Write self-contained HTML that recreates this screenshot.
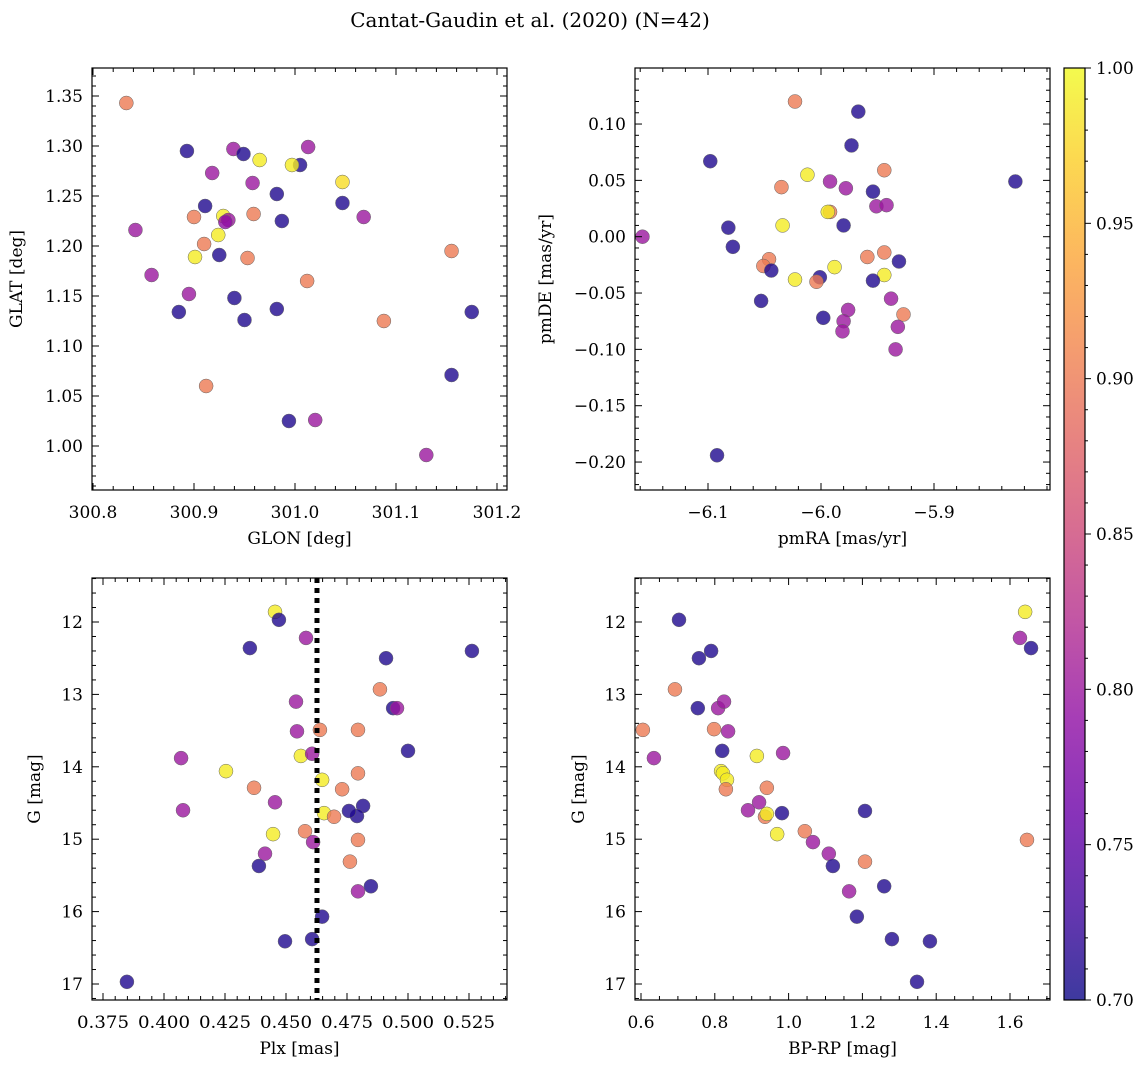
<!DOCTYPE html>
<html><head><meta charset="utf-8"><style>
html,body{margin:0;padding:0;background:#fff;}
svg{display:block;font-family:"DejaVu Serif","Liberation Serif",serif;}
</style></head><body>
<svg id="fig" width="1148" height="1067" viewBox="0 0 1148 1067" xmlns="http://www.w3.org/2000/svg">
<defs>
<linearGradient id="plasmaGrad" x1="0" y1="1" x2="0" y2="0">
<stop offset="0" stop-color="#0d0887"/><stop offset="0.1" stop-color="#41049d"/><stop offset="0.2" stop-color="#6a00a8"/><stop offset="0.3" stop-color="#8f0da4"/><stop offset="0.4" stop-color="#b12a90"/><stop offset="0.5" stop-color="#cc4778"/><stop offset="0.6" stop-color="#e16462"/><stop offset="0.7" stop-color="#f2844b"/><stop offset="0.8" stop-color="#fca636"/><stop offset="0.9" stop-color="#fcce25"/><stop offset="1" stop-color="#f0f921"/>
</linearGradient>
</defs>
<text x="530" y="27" font-size="20" text-anchor="middle">Cantat-Gaudin et al. (2020) (N=42)</text>
</svg>
<script>
// ---- Panel 1: GLON vs GLAT ----
const p1Glon=[300.833,300.893,300.939,300.949,300.965,301.013,301.005,300.997,300.918,300.958,300.911,301.047,300.982,300.929,300.900,300.934,300.931,300.959,301.068,300.987,301.047,300.842,300.924,300.910,300.925,300.901,300.953,301.155,300.858,301.012,300.895,300.940,300.885,300.982,300.950,301.088,301.175,300.912,301.155,300.994,301.020,301.130];
const p1Glat=[1.343,1.295,1.297,1.292,1.286,1.299,1.281,1.281,1.273,1.263,1.240,1.264,1.252,1.230,1.229,1.226,1.224,1.232,1.229,1.225,1.243,1.216,1.211,1.202,1.191,1.189,1.188,1.195,1.171,1.165,1.152,1.148,1.134,1.137,1.126,1.125,1.134,1.060,1.071,1.025,1.026,0.991];
const p1Prob=[0.90,0.71,0.80,0.71,0.99,0.80,0.71,0.99,0.80,0.80,0.71,0.98,0.71,0.99,0.90,0.80,0.79,0.90,0.80,0.71,0.71,0.80,0.99,0.90,0.71,0.99,0.90,0.90,0.80,0.90,0.80,0.71,0.71,0.71,0.71,0.90,0.71,0.90,0.71,0.71,0.80,0.80];
const p1XTicks=[300.8,300.9,301.0,301.1,301.2];
const p1XLabels=["300.8","300.9","301.0","301.1","301.2"];
const p1YTicks=[1.00,1.05,1.10,1.15,1.20,1.25,1.30,1.35];
const p1YLabels=["1.00","1.05","1.10","1.15","1.20","1.25","1.30","1.35"];
// ---- Panel 2: pmRA vs pmDE ----
const p2Pmra=[-6.098,-6.023,-5.967,-5.973,-6.012,-5.992,-5.944,-6.035,-5.978,-5.954,-5.951,-5.942,-5.992,-5.994,-5.828,-6.034,-6.082,-5.980,-6.158,-6.078,-6.046,-6.051,-6.044,-5.944,-5.959,-5.931,-6.001,-6.004,-6.023,-5.944,-5.954,-6.053,-5.938,-5.976,-5.998,-5.927,-5.932,-5.980,-5.981,-5.934,-6.092,-5.988];
const p2Pmde=[0.067,0.120,0.111,0.081,0.055,0.049,0.059,0.044,0.043,0.040,0.027,0.028,0.022,0.022,0.049,0.010,0.008,0.010,0.000,-0.009,-0.020,-0.026,-0.030,-0.014,-0.018,-0.022,-0.036,-0.040,-0.038,-0.034,-0.039,-0.057,-0.055,-0.065,-0.072,-0.069,-0.080,-0.075,-0.084,-0.100,-0.194,-0.027];
const p2Prob=[0.71,0.90,0.71,0.71,0.99,0.80,0.90,0.90,0.80,0.71,0.80,0.80,0.90,0.99,0.71,0.99,0.71,0.71,0.80,0.71,0.90,0.90,0.71,0.90,0.90,0.71,0.71,0.90,0.99,0.99,0.71,0.71,0.80,0.80,0.71,0.90,0.80,0.80,0.80,0.80,0.71,0.99];
const p2XTicks=[-6.1,-6.0,-5.9];
const p2XLabels=["\u22126.1","\u22126.0","\u22125.9"];
const p2YTicks=[-0.20,-0.15,-0.10,-0.05,0.00,0.05,0.10];
const p2YLabels=["\u22120.20","\u22120.15","\u22120.10","\u22120.05","0.00","0.05","0.10"];
// ---- Panel 3: Plx vs G ----
const p3Plx=[0.4455,0.4471,0.4582,0.4352,0.5262,0.4910,0.4885,0.4939,0.4955,0.4541,0.4545,0.4639,0.4795,0.5000,0.4561,0.4607,0.4070,0.4254,0.4648,0.4795,0.4730,0.4369,0.4656,0.4697,0.4816,0.4791,0.4758,0.4455,0.4078,0.4447,0.4578,0.4611,0.4795,0.4414,0.4762,0.4389,0.4795,0.4848,0.4648,0.4496,0.4607,0.3848];
const p3G=[11.86,11.97,12.22,12.36,12.40,12.50,12.93,13.19,13.19,13.10,13.51,13.49,13.49,13.78,13.85,13.82,13.88,14.06,14.18,14.09,14.31,14.29,14.64,14.69,14.54,14.68,14.61,14.49,14.60,14.93,14.89,15.04,15.01,15.20,15.31,15.37,15.72,15.65,16.07,16.41,16.38,16.97];
const p3Prob=[0.99,0.71,0.80,0.71,0.71,0.71,0.90,0.71,0.80,0.80,0.80,0.90,0.90,0.71,0.99,0.80,0.80,0.99,0.99,0.90,0.90,0.90,0.99,0.90,0.71,0.71,0.71,0.80,0.80,0.99,0.90,0.80,0.90,0.80,0.90,0.71,0.80,0.71,0.71,0.71,0.71,0.71];
const p3MeanPlx=0.4627;
const p3XTicks=[0.375,0.400,0.425,0.450,0.475,0.500,0.525];
const p3XLabels=["0.375","0.400","0.425","0.450","0.475","0.500","0.525"];
const gTicks=[12,13,14,15,16,17];
const gLabels=["12","13","14","15","16","17"];
// ---- Panel 4: BP-RP vs G ----
const p4Bprp=[0.703,1.641,1.627,1.657,0.790,0.757,0.692,0.809,0.825,0.754,0.605,0.798,0.836,0.635,0.820,0.914,0.985,0.817,0.822,0.833,0.830,0.941,0.890,0.920,0.982,0.936,0.941,1.207,1.044,0.969,1.066,1.646,1.109,1.120,1.207,1.164,1.259,1.185,1.280,1.383,1.348];
const p4G=[11.97,11.86,12.22,12.36,12.40,12.50,12.93,13.19,13.10,13.19,13.49,13.48,13.51,13.88,13.78,13.85,13.81,14.06,14.09,14.18,14.31,14.29,14.60,14.49,14.64,14.69,14.65,14.61,14.89,14.93,15.04,15.01,15.20,15.37,15.31,15.72,15.65,16.07,16.38,16.41,16.97];
const p4Prob=[0.71,0.99,0.80,0.71,0.71,0.71,0.90,0.80,0.80,0.71,0.90,0.90,0.80,0.80,0.71,0.99,0.80,0.99,0.99,0.99,0.90,0.90,0.80,0.80,0.71,0.90,0.99,0.71,0.90,0.99,0.80,0.90,0.80,0.71,0.90,0.80,0.71,0.71,0.71,0.71,0.71];
const p4XTicks=[0.6,0.8,1.0,1.2,1.4,1.6];
const p4XLabels=["0.6","0.8","1.0","1.2","1.4","1.6"];
// ---- Colorbar ----
const cbTicks=[0.70,0.75,0.80,0.85,0.90,0.95,1.00];
const cbLabels=["0.70","0.75","0.80","0.85","0.90","0.95","1.00"];

const NS="http://www.w3.org/2000/svg";
const fig=document.getElementById('fig');
function mk(tag,attrs,parent){const e=document.createElementNS(NS,tag);for(const k in attrs)e.setAttribute(k,attrs[k]);(parent||fig).appendChild(e);return e;}
function lin(v0,p0,k){const f=v=>p0+(v-v0)*k;f.inv=p=>v0+(p-p0)/k;return f;}
const stops=[[0,13,8,135],[0.1,65,4,157],[0.2,106,0,168],[0.3,143,13,164],[0.4,177,42,144],[0.5,204,71,120],[0.6,225,100,98],[0.7,242,132,75],[0.8,252,166,54],[0.9,252,206,37],[1,240,249,33]];
function plasma(t){t=Math.max(0,Math.min(1,t));for(let i=1;i<stops.length;i++){if(t<=stops[i][0]){const a=stops[i-1],b=stops[i],u=(t-a[0])/(b[0]-a[0]);return 'rgb('+[1,2,3].map(j=>Math.round(a[j]+(b[j]-a[j])*u)).join(',')+')';}}return 'rgb(240,249,33)';}
const cNorm=v=>(v-0.70)/0.30;

function ticksAlong(box,scale,ticks,minorStep,axis,name){
  const g=mk('g',{});
  
  
  const [x0,y0,x1,y1]=box;
  const lo=Math.min(scale.inv(axis==='x'?x0:y0),scale.inv(axis==='x'?x1:y1));
  const hi=Math.max(scale.inv(axis==='x'?x0:y0),scale.inv(axis==='x'?x1:y1));
  const start=Math.ceil(lo/minorStep-1e-6);
  for(let i=start;i*minorStep<=hi+1e-9;i++){
    const v=i*minorStep;const isMajor=ticks.some(t=>Math.abs(t-v)<minorStep/10);
    const L=isMajor?7:4;const p=scale(v);
    if(axis==='x'){mk('line',{x1:p,y1:y1,x2:p,y2:y1-L,stroke:'#000','stroke-width':1},g);mk('line',{x1:p,y1:y0,x2:p,y2:y0+L,stroke:'#000','stroke-width':1},g);}
    else{mk('line',{x1:x0,y1:p,x2:x0+L,y2:p,stroke:'#000','stroke-width':1},g);mk('line',{x1:x1,y1:p,x2:x1-L,y2:p,stroke:'#000','stroke-width':1},g);}
  }
}
function panel(id,box,xs,ys,xT,xL,yT,yL,xMinor,yMinor,xTitle,yTitle,yTitleX,xv,yv,pv,xLabW){
  const [x0,y0,x1,y1]=box;
  const g=mk('g',{});
  
  
  const pts=mk('g',{},g);
  
  
  for(let i=0;i<xv.length;i++){
    const c=mk('circle',{cx:xs(xv[i]),cy:ys(yv[i]),r:7,fill:plasma(cNorm(pv[i])),'fill-opacity':0.8,stroke:'#666','stroke-width':0.5},pts);
    
    
  }
  ticksAlong(box,xs,xT,xMinor,'x',id+'-x');
  ticksAlong(box,ys,yT,yMinor,'y',id+'-y');
  const fr=mk('rect',{x:x0,y:y0,width:x1-x0,height:y1-y0,fill:'none',stroke:'#000','stroke-width':1.2},g);
  
  
  xT.forEach((t,i)=>{const at={x:xs(t),y:y1+28,'font-size':17,'text-anchor':'middle'};
    if(xLabW){at.textLength=xLabW;at.lengthAdjust='spacingAndGlyphs';}
    const e=mk('text',at,g);e.textContent=xL[i];
    
    });
  yT.forEach((t,i)=>{const e=mk('text',{x:x0-9,y:ys(t)+6,'font-size':17,'text-anchor':'end'},g);e.textContent=yL[i];
    
    });
  const xt=mk('text',{x:(x0+x1)/2,y:y1+54,'font-size':17,'text-anchor':'middle'},g);xt.textContent=xTitle;
  
  
  const cy=(y0+y1)/2;
  const yt=mk('text',{x:yTitleX,y:cy,'font-size':17,'text-anchor':'middle',transform:'rotate(-90 '+yTitleX+' '+cy+')'},g);yt.textContent=yTitle;
  
  
  return g;
}
const B1=[92,68,507,490],B2=[635,68,1050,490],B3=[92,578,507,1000],B4=[635,578,1050,1000];
const s1x=lin(300.8,93,1010),s1y=lin(1.35,96,-1000);
const s2x=lin(-6.1,708,1130),s2y=lin(0,236.7,-1126.7);
const s3x=lin(0.375,103,2440),s3y=lin(12,622,72.4);
const s4x=lin(0.6,641,369),s4y=lin(12,622,72.4);
panel('glon-glat-panel',B1,s1x,s1y,p1XTicks,p1XLabels,p1YTicks,p1YLabels,0.02,0.01,'GLON [deg]','GLAT [deg]',22,p1Glon,p1Glat,p1Prob);
panel('proper-motion-panel',B2,s2x,s2y,p2XTicks,p2XLabels,p2YTicks,p2YLabels,0.02,0.01,'pmRA [mas/yr]','pmDE [mas/yr]',551,p2Pmra,p2Pmde,p2Prob);
const g3=panel('parallax-panel',B3,s3x,s3y,p3XTicks,p3XLabels,gTicks,gLabels,0.005,0.2,'Plx [mas]','G [mag]',40,p3Plx,p3G,p3Prob,52);
const ml=mk('line',{x1:s3x(p3MeanPlx),y1:B3[1],x2:s3x(p3MeanPlx),y2:B3[3],stroke:'#000','stroke-width':5,'stroke-dasharray':'5,5'},g3);


panel('cmd-panel',B4,s4x,s4y,p4XTicks,p4XLabels,gTicks,gLabels,0.05,0.2,'BP-RP [mag]','G [mag]',584,p4Bprp,p4G,p4Prob);
// colorbar
const cb=mk('g',{});


const CB=[1064,68,1085,1000];
const cs=lin(0.70,1000,-3106.7);
mk('rect',{x:CB[0],y:CB[1],width:CB[2]-CB[0],height:CB[3]-CB[1],fill:'url(#plasmaGrad)','fill-opacity':0.8},cb);
for(let i=70;i<=100;i++){const v=i/100,p=cs(v),maj=cbTicks.some(t=>Math.abs(t-v)<1e-6);
  mk('line',{x1:CB[2],y1:p,x2:CB[2]+(maj?6:3),y2:p,stroke:'#000','stroke-width':1},cb);}
mk('rect',{x:CB[0],y:CB[1],width:CB[2]-CB[0],height:CB[3]-CB[1],fill:'none',stroke:'#000','stroke-width':1.2},cb);
cbTicks.forEach((t,i)=>{const e=mk('text',{x:CB[2]+11,y:cs(t)+6,'font-size':17},cb);e.textContent=cbLabels[i];
  
  });
</script>
</body></html>
